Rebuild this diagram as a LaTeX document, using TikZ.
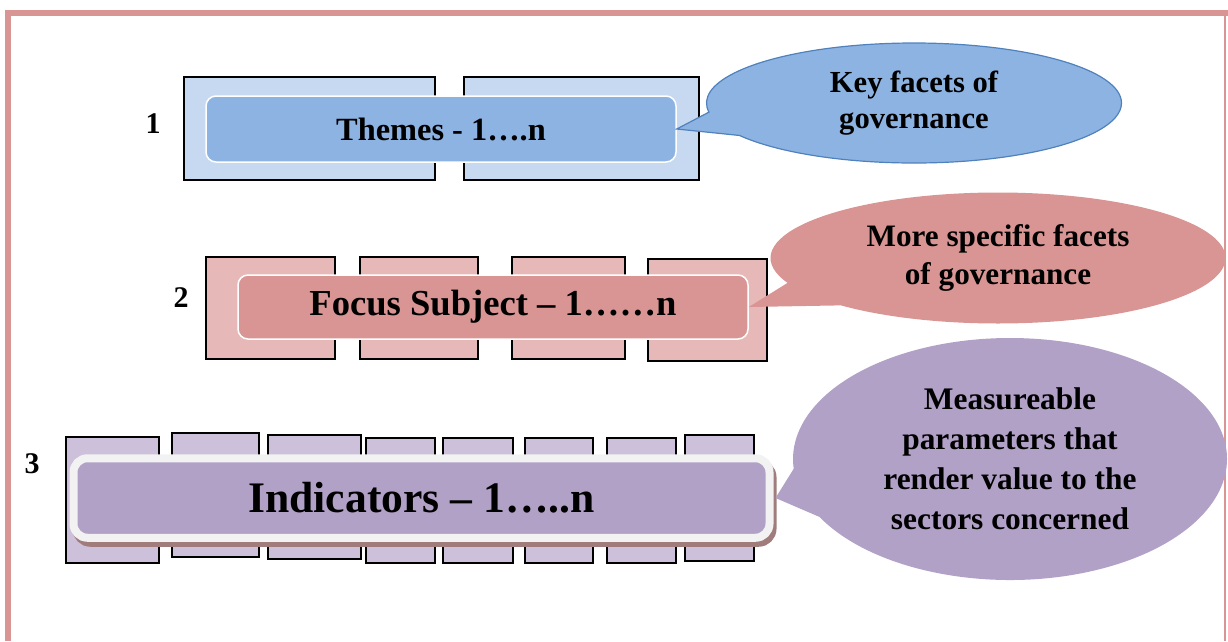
\documentclass[tikz,border=0pt]{standalone}
\usepackage{fontspec}
\setmainfont{Liberation Serif}
\usepackage{tikz}
\usetikzlibrary{shapes.callouts,shadows}

\definecolor{frameline}{HTML}{D99594}
\definecolor{blueLight}{HTML}{C6D9F1}
\definecolor{blueMid}{HTML}{8DB3E2}
\definecolor{blueEdge}{HTML}{4F81BD}
\definecolor{pinkLight}{HTML}{E6B9B8}
\definecolor{pinkMid}{HTML}{D99594}
\definecolor{purpleLight}{HTML}{CCC0DA}
\definecolor{purpleMid}{HTML}{B2A1C7}
\definecolor{greyBorder}{HTML}{F2F2F2}
\definecolor{shadowBrown}{HTML}{A07C7C}

\begin{document}
\begin{tikzpicture}[x=1pt,y=-1pt,
  backbox/.style={draw=black,line width=1.8pt},
  frontbox/.style={rounded corners=10pt,draw=white,line width=1.5pt,inner sep=0pt},
  bubble/.style={ellipse callout,callout pointer arc=24,inner sep=0pt,align=center},
  numlabel/.style={font=\bfseries\fontsize{30}{34}\selectfont,inner sep=0pt}]

\useasboundingbox (0,0) rectangle (1228,641);
% page frame
\draw[frameline,line width=6pt] (8,641) -- (8,13) -- (1228,13);
\draw[frameline,line width=2pt] (1225,13) -- (1225,641);

% row 1
\node[numlabel] (lab1) at (153,124) {1};
\filldraw[backbox,fill=blueLight] (184,77) rectangle (435,180);
\filldraw[backbox,fill=blueLight] (464,77) rectangle (699,180);
\node[frontbox,fill=blueMid,minimum width=470pt,minimum height=66pt,
  font=\bfseries\fontsize{32.4}{36}\selectfont] (themes) at (441,129) {Themes - 1….n};
\node[bubble,draw=blueEdge,line width=1.2pt,fill=blueMid,minimum width=415pt,minimum height=120pt,
  callout absolute pointer={(themes.east)},font=\bfseries\fontsize{30.6}{36}\selectfont]
  (keyfacets) at (914,103) {Key facets of\\governance};

% row 2
\node[numlabel] (lab2) at (181,298) {2};
\filldraw[backbox,fill=pinkLight] (206,257) rectangle (335,359);
\filldraw[backbox,fill=pinkLight] (360,257) rectangle (478,359);
\filldraw[backbox,fill=pinkLight] (512,257) rectangle (625,359);
\filldraw[backbox,fill=pinkLight] (648,259) rectangle (767,361);
\node[frontbox,fill=pinkMid,minimum width=510pt,minimum height=64pt,
  font=\bfseries\fontsize{36.6}{40}\selectfont] (focus) at (493,307) {Focus Subject – 1……n};
\node[bubble,fill=pinkMid,minimum width=455pt,minimum height=131pt,
  callout absolute pointer={(focus.east)},font=\bfseries\fontsize{31.2}{38}\selectfont]
  (specific) at (998,258) {More specific facets\\of governance};

% row 3
\node[numlabel] (lab3) at (32,464) {3};
\filldraw[backbox,fill=purpleLight] (66,437) rectangle (159,563);
\filldraw[backbox,fill=purpleLight] (172,433) rectangle (259,557);
\filldraw[backbox,fill=purpleLight] (268,435) rectangle (361,559);
\filldraw[backbox,fill=purpleLight] (366,438) rectangle (435,563);
\filldraw[backbox,fill=purpleLight] (443,438) rectangle (513,563);
\filldraw[backbox,fill=purpleLight] (525,438) rectangle (593,563);
\filldraw[backbox,fill=purpleLight] (607,438) rectangle (676,563);
\filldraw[backbox,fill=purpleLight] (685,435) rectangle (754,561);
\node[frontbox,draw=greyBorder,line width=8pt,rounded corners=14pt,fill=purpleMid,
  minimum width=696pt,minimum height=79.5pt,
  drop shadow={shadow xshift=3pt,shadow yshift=-5pt,fill=shadowBrown,draw=shadowBrown,opacity=1},
  font=\bfseries\fontsize{43.6}{50}\selectfont] (indic) at (421.5,498) {Indicators – 1…..n};
\node[bubble,fill=purpleMid,minimum width=434pt,minimum height=242pt,
  callout absolute pointer={([xshift=2pt]indic.east)},font=\bfseries\fontsize{31.4}{40}\selectfont]
  (measure) at (1010,459) {Measureable\\parameters that\\render value to the\\sectors concerned};
\end{tikzpicture}
\end{document}
